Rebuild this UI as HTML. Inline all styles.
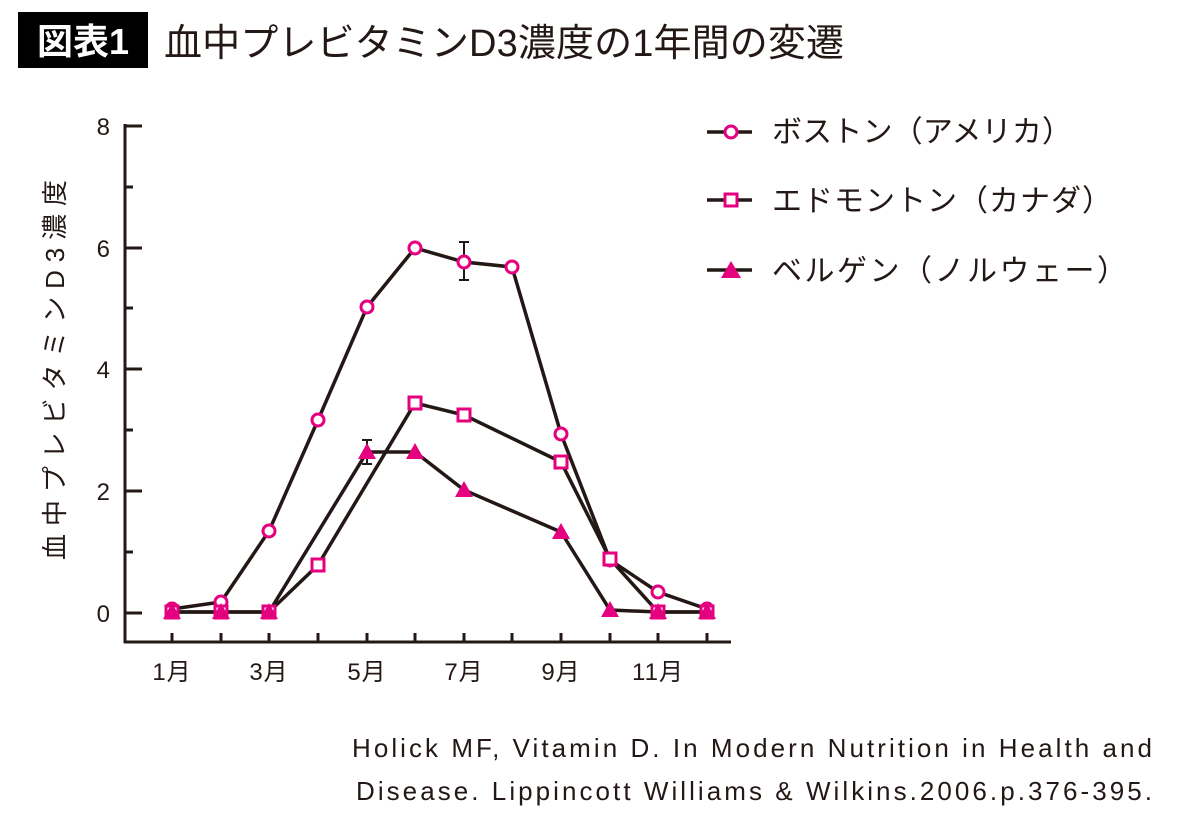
<!DOCTYPE html>
<html><head><meta charset="utf-8"><style>
body{margin:0;background:#fff;}
svg{display:block;font-family:"Liberation Sans","Noto Sans CJK JP",sans-serif;}
</style></head><body>
<svg width="1200" height="830" viewBox="0 0 1200 830">
<rect x="18" y="12" width="130" height="56" fill="#000"/>
<text x="83" y="54" font-size="36" fill="#fff" text-anchor="middle" font-weight="bold">図表1</text>
<text x="164" y="56" font-size="38" fill="#231815" textLength="680" lengthAdjust="spacing">血中プレビタミンD3濃度の1年間の変遷</text>
<g stroke="#231815" stroke-width="3" fill="none">
<line x1="125" y1="124" x2="125" y2="643"/>
<line x1="124" y1="642" x2="731" y2="642"/>
<line x1="125" y1="126" x2="142" y2="126"/>
<line x1="125" y1="248" x2="142" y2="248"/>
<line x1="125" y1="369" x2="142" y2="369"/>
<line x1="125" y1="491" x2="142" y2="491"/>
<line x1="125" y1="613" x2="142" y2="613"/>
<line x1="125" y1="187" x2="133" y2="187"/>
<line x1="125" y1="308" x2="133" y2="308"/>
<line x1="125" y1="430" x2="133" y2="430"/>
<line x1="125" y1="552" x2="133" y2="552"/>
<path d="M172 642v-9M221 642v-9M269 642v-9M318 642v-9M367 642v-9M415 642v-9M464 642v-9M512 642v-9M561 642v-9M610 642v-9M658 642v-9M707 642v-9"/>
</g>
<g font-size="24" fill="#231815" text-anchor="end">
<text x="110" y="135">8</text><text x="110" y="257">6</text><text x="110" y="378">4</text><text x="110" y="500">2</text><text x="110" y="622">0</text>
</g>
<g font-size="24" fill="#231815" text-anchor="middle" letter-spacing="1">
<text x="172" y="680">1月</text><text x="269" y="680">3月</text><text x="367" y="680">5月</text><text x="464" y="680">7月</text><text x="561" y="680">9月</text><text x="658" y="680">11月</text>
</g>
<text transform="translate(64,370) rotate(-90)" font-size="26" fill="#231815" text-anchor="middle" textLength="380" lengthAdjust="spacing">血中プレビタミンD3濃度</text>
<g stroke="#231815" stroke-width="3.5" fill="none">
<polyline points="172,609 221,602 269,531 318,420 367,307 415,248 464,262 512,267 561,434 610,560 658,592 707,609"/>
<polyline points="172,612 221,612 269,612 318,565 415,403 464,415 561,462 610,559 658,612 707,612"/>
<polyline points="172,612 221,612 269,612 367,452 415,452 464,490 561,532 610,610 658,612 707,612"/>
<path stroke-width="2" d="M464 242v38M459 242h10M459 280h10M367 440v24M362 440h10M362 464h10"/>
</g>
<g fill="#fff" stroke="#e4007f" stroke-width="3">
<circle cx="172" cy="609" r="6"/><circle cx="221" cy="602" r="6"/><circle cx="269" cy="531" r="6"/><circle cx="318" cy="420" r="6"/><circle cx="367" cy="307" r="6"/><circle cx="415" cy="248" r="6"/><circle cx="464" cy="262" r="6"/><circle cx="512" cy="267" r="6"/><circle cx="561" cy="434" r="6"/><circle cx="610" cy="560" r="6"/><circle cx="658" cy="592" r="6"/><circle cx="707" cy="609" r="6"/>
<rect x="312" y="559" width="12" height="12"/><rect x="409" y="397" width="12" height="12"/><rect x="458" y="409" width="12" height="12"/><rect x="555" y="456" width="12" height="12"/><rect x="604" y="553" width="12" height="12"/>
<rect x="166" y="606" width="12" height="12"/><rect x="215" y="606" width="12" height="12"/><rect x="263" y="606" width="12" height="12"/><rect x="652" y="606" width="12" height="12"/><rect x="701" y="606" width="12" height="12"/>
</g>
<g fill="#e4007f">
<path d="M172 603l9 16h-18z"/><path d="M221 603l9 16h-18z"/><path d="M269 603l9 16h-18z"/><path d="M367 443l9 16h-18z"/><path d="M415 443l9 16h-18z"/><path d="M464 481l9 16h-18z"/><path d="M561 523l9 16h-18z"/><path d="M610 601l9 16h-18z"/><path d="M658 603l9 16h-18z"/><path d="M707 603l9 16h-18z"/>
</g>
<g stroke="#231815" stroke-width="3.5"><line x1="707" y1="132" x2="752" y2="132"/><line x1="707" y1="200" x2="752" y2="200"/><line x1="707" y1="270" x2="752" y2="270"/></g>
<circle cx="731" cy="132" r="6" fill="#fff" stroke="#e4007f" stroke-width="3"/>
<rect x="725" y="194" width="12" height="12" fill="#fff" stroke="#e4007f" stroke-width="3"/>
<path d="M731 261l10 17h-20z" fill="#e4007f"/>
<g font-size="30" fill="#231815">
<text x="772" y="142" textLength="300" lengthAdjust="spacing">ボストン（アメリカ）</text>
<text x="772" y="211" textLength="340" lengthAdjust="spacing">エドモントン（カナダ）</text>
<text x="772" y="281" textLength="355" lengthAdjust="spacing">ベルゲン（ノルウェー）</text>
</g>
<g font-size="26" fill="#231815">
<text x="352" y="757" textLength="800" lengthAdjust="spacing">Holick MF, Vitamin D. In Modern Nutrition in Health and</text>
<text x="356" y="800" textLength="796" lengthAdjust="spacing">Disease. Lippincott Williams &amp; Wilkins.2006.p.376-395.</text>
</g>
</svg>
</body></html>
